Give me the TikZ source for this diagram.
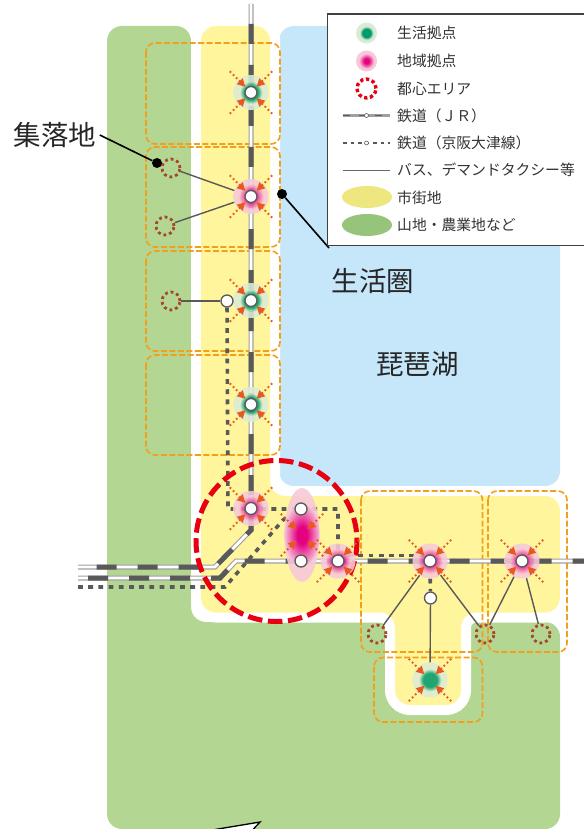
\documentclass[tikz,border=0pt]{standalone}
\usepackage{xcolor}
\usepackage{fontspec}
\setmainfont{Noto Sans CJK JP}
\usetikzlibrary{shapes,shapes.geometric,arrows,arrows.meta,positioning}

\definecolor{mtngreen}{HTML}{B3D692}
\definecolor{cityyellow}{HTML}{FFF59D}
\definecolor{lakeblue}{HTML}{C6E6FA}
\definecolor{boxorange}{HTML}{F29F1B}
\definecolor{rayorange}{HTML}{E8591C}
\definecolor{railgray}{HTML}{595959}
\definecolor{railedge}{HTML}{A0A0A0}
\definecolor{villagebrown}{HTML}{A5482A}
\definecolor{corered}{HTML}{E60012}
\definecolor{hubdark}{HTML}{009B6B}
\definecolor{hubpale}{HTML}{DCEBD5}
\definecolor{areadark}{HTML}{E4007F}
\definecolor{areapale}{HTML}{F7C9D9}
\definecolor{legyellow}{HTML}{EEE77F}
\definecolor{leggreen}{HTML}{95C47A}

\pgfdeclareradialshading{lifeglow}{\pgfpoint{0bp}{0bp}}{color(0bp)=(hubdark); color(10bp)=(hubdark); color(16bp)=(hubpale); color(50bp)=(hubpale)}
\pgfdeclareradialshading{areaglow}{\pgfpoint{0bp}{0bp}}{color(0bp)=(areadark); color(6bp)=(areadark); color(18bp)=(areapale); color(50bp)=(areapale)}
\pgfdeclareradialshading{ovalglow}{\pgfpoint{0bp}{0bp}}{color(0bp)=(areadark); color(7bp)=(areadark); color(26bp)=(areapale); color(50bp)=(areapale)}

\pgfdeclarelayer{back}
\pgfsetlayers{back,main}

\newcommand{\railline}[2]{%
    \draw[railbase] #2;
    \draw[railcore] #2;
    \draw[raildash, dash phase=#1] #2;
}

\begin{document}
\begin{tikzpicture}[x=1pt, y=-1pt, node distance=104pt]
    % Define styles
    \tikzstyle{lifehub} = [circle, minimum size=35pt, inner sep=0pt, shade, shading=lifeglow, opacity=0.88]
    \tikzstyle{areahub} = [circle, minimum size=35pt, inner sep=0pt, shade, shading=areaglow, opacity=0.88]
    \tikzstyle{station} = [circle, minimum size=12pt, inner sep=0pt, draw=railgray, line width=1.3pt, fill=white]
    \tikzstyle{village} = [circle, minimum size=18pt, inner sep=0pt, draw=villagebrown, line width=2.8pt, dash pattern=on 2.8pt off 3pt]
    \tikzstyle{area} = [draw=boxorange, line width=1.6pt, rounded corners=9pt, dash pattern=on 6pt off 2.5pt]
    \tikzstyle{hubray} = [draw=rayorange, line width=1.8pt, dash pattern=on 1.8pt off 2.6pt, -{Triangle[width=8pt,length=8pt]}]
    \tikzstyle{busline} = [draw=railgray, line width=1.4pt]
    \tikzstyle{keihan} = [draw=railgray, line width=3.6pt, dash pattern=on 4.8pt off 5.4pt]
    \tikzstyle{railbase} = [draw=railedge, line width=5pt]
    \tikzstyle{railcore} = [draw=white, line width=2.8pt]
    \tikzstyle{raildash} = [draw=railgray, line width=5pt, dash pattern=on 20pt off 21pt]
    \tikzstyle{callout} = [draw=black, line width=1.6pt]
    \tikzstyle{calloutdot} = [circle, minimum size=10pt, inner sep=0pt, fill=black]
    \tikzstyle{bigtext} = [font=\fontsize{27.5}{30}\selectfont, text=black!85]
    \tikzstyle{legendtext} = [anchor=west, inner sep=0pt, font=\fontsize{14.8}{16}\selectfont, text=black!80]

    \useasboundingbox (0,0) rectangle (583,829);

    % Hubs on the line north to south
    \node[lifehub] (hub1) at (251,92.5) {};
    \node[areahub, below of=hub1] (hub2) {};
    \node[lifehub, below of=hub2] (hub3) {};
    \node[lifehub, below of=hub3] (hub4) {};
    \node[areahub, below of=hub4] (hub5) {};
    % Hubs on the line west to east
    \node[areahub] (hub6) at (338,561) {};
    \node[areahub, right of=hub6, node distance=92pt] (hub7) {};
    \node[areahub, right of=hub7, node distance=92pt] (hub8) {};
    \node[lifehub] (hub9) at (430,680) {};
    \node[ellipse, minimum width=35pt, minimum height=94pt, inner sep=0pt, fill=areapale, opacity=0.9] (oval) at (302,535) {};
    \node[ellipse, minimum width=35pt, minimum height=62pt, inner sep=0pt, shade, shading=ovalglow] (ovalcore) at (oval) {};

    % Stations
    \foreach \i in {1,2,3,4,5,6,7,8} {
        \node[station] (st\i) at (hub\i) {};
    }
    \node[station] (ovaln) at (301,509) {};
    \node[station] (ovals) at (301,561) {};
    \node[station] (stbus) at (227,301) {};
    \node[station] (stbay) at (430.5,598) {};

    % Villages
    \node[village] (vil1) at (171,168) {};
    \node[village] (vil2) at (165,226) {};
    \node[village] (vil3) at (171,301) {};
    \node[village] (vil4) at (377,634) {};
    \node[village] (vil5) at (485,634) {};
    \node[village] (vil6) at (541,634) {};

    % Rays
    \foreach \h in {hub1,hub2,hub3,hub4,hub5,hub6,hub7,hub8,hub9,oval} {
        \foreach \a in {45,135,225,315} {
            \draw[hubray] (\h.center) ++(\a:30) -- ++(\a:-22);
        }
    }

    % Rail coordinates
    \coordinate (jrtop) at (251,4);
    \coordinate (jrbend) at (251,530);
    \coordinate (jrfoot) at (215,567);
    \coordinate (jrwest) at (78,567);
    \coordinate (jreast) at (590,561);
    \coordinate (jrelbow) at (236,561);
    \coordinate (jrlow) at (220,578);
    \coordinate (jrsouth) at (78,578);
    \coordinate (kewest) at (78,587);
    \coordinate (kefoot) at (225,587);
    \coordinate (keup) at (283,520);
    \coordinate (kecorner) at (228,509);
    \coordinate (keturn) at (338,509);
    \coordinate (kelink) at (338,555.5);
    \coordinate (kelinke) at (430,555.5);

    \begin{pgfonlayer}{back}
        % Land and water
        \fill[lakeblue, rounded corners=15pt] (279,26) -- (560,26) -- (560,486) -- (279,486) -- cycle;
        \fill[mtngreen, rounded corners=15pt] (107,26) -- (191,26) -- (191,622) -- (560,622) -- (560,829) -- (107,829) -- cycle;
        \filldraw[fill=cityyellow, draw=white, line width=20pt, rounded corners=15pt] (201,26) -- (270,26) -- (270,496) -- (560,496) -- (560,612.5) -- (461,612.5) -- (461,705) -- (395,705) -- (395,612.5) -- (201,612.5) -- cycle;
        \fill[cityyellow, rounded corners=15pt] (201,26) -- (270,26) -- (270,496) -- (560,496) -- (560,612.5) -- (461,612.5) -- (461,705) -- (395,705) -- (395,612.5) -- (201,612.5) -- cycle;

        % Living areas
        \draw[area] (146,43) rectangle (280,144);
        \draw[area] (146,147) rectangle (280,247);
        \draw[area] (146,251) rectangle (280,351);
        \draw[area] (146,355) rectangle (280,455);
        \draw[area] (361,491) rectangle (482.5,652);
        \draw[area] (488,491) rectangle (567,652);
        \draw[area] (374,657.5) rectangle (482.5,722);

        % Connections
        \railline{21pt}{(jrtop) -- (jrbend) -- (jrfoot) -- (jrwest)}
        \railline{31pt}{(jrsouth) -- (jrlow) -- (jrelbow) -- (jreast)}
        \draw[keihan] (kewest) -- (kefoot) -- (keup) -- (ovaln);
        \draw[keihan] (stbus) -- (kecorner) -- (keturn) -- (st6);
        \draw[keihan] (kelink) -- (kelinke);
        \draw[keihan] (hub7) -- (stbay);

        % City centre area
        \draw[draw=corered, line width=5pt, dash pattern=on 14.5pt off 5.6pt] (276.5,541) circle (80.5);
    \end{pgfonlayer}

    % Bus lines
    \draw[busline] (vil1) -- (hub2);
    \draw[busline] (vil2) -- (hub2);
    \draw[busline] (vil3) -- (stbus);
    \draw[busline] (hub7) -- (vil4);
    \draw[busline] (hub7) -- (vil5);
    \draw[busline] (hub8) -- (vil5);
    \draw[busline] (hub8) -- (vil6);
    \draw[busline] (stbay) -- (hub9);

    % Big labels
    \node[bigtext] (lbvillage) at (55,135) {集落地};
    \node[bigtext] (lbcircle) at (373,281) {生活圏};
    \node[bigtext] (lblake) at (417.5,364) {琵琶湖};
    \node[calloutdot] (dotvillage) at (157,163) {};
    \node[calloutdot] (dotcircle) at (282,194) {};
    \coordinate (endcircle) at (329,248);
    \draw[callout] (lbvillage.east) -- (dotvillage);
    \draw[callout] (dotcircle) -- (endcircle);

    % Legend
    \draw[draw=black!75, fill=white, line width=1.2pt] (327.5,14) rectangle (590,245.5);
    \foreach \i/\y/\txt in {1/33/生活拠点, 2/61/地域拠点, 3/88.5/都心エリア, 4/116/鉄道（ＪＲ）, 5/143/鉄道（京阪大津線）, 6/170/バス、デマンドタクシー等, 7/197.5/市街地, 8/225/山地・農業地など} {
        \node[legendtext] (lt\i) at (397,\y) {\txt};
    }
    \node[lifehub, minimum size=21pt, opacity=1] (lg1) at (366.5,33) {};
    \node[areahub, minimum size=21pt, opacity=1] (lg2) at (366.5,61) {};
    \node[circle, minimum size=19pt, inner sep=0pt, draw=corered, line width=3.4pt, dash pattern=on 3.4pt off 2.6pt] (lg3) at (366.5,88.5) {};
    \coordinate (lg4w) at (343,115.5);
    \coordinate (lg4e) at (390,115.5);
    \draw[draw=railedge, line width=3pt] (lg4w) -- (lg4e);
    \draw[draw=railgray, line width=1.4pt, dash pattern=on 7pt off 9pt] (lg4w) -- (lg4e);
    \node[circle, minimum size=4pt, inner sep=0pt, draw=railgray, line width=0.6pt, fill=white] (lg4) at (366.5,115.5) {};
    \coordinate (lg5w) at (343,143);
    \coordinate (lg5e) at (390,143);
    \draw[draw=railgray, line width=1.5pt, dash pattern=on 3.5pt off 4pt] (lg5w) -- (lg5e);
    \node[circle, minimum size=4pt, inner sep=0pt, draw=railgray, line width=0.6pt, fill=white] (lg5) at (366.5,143) {};
    \coordinate (lg6w) at (343,170.5);
    \coordinate (lg6e) at (390,170.5);
    \draw[draw=railgray!90, line width=1.6pt] (lg6w) -- (lg6e);
    \node[ellipse, minimum width=50pt, minimum height=22pt, inner sep=0pt, fill=legyellow] (lg7) at (367,197) {};
    \node[ellipse, minimum width=50pt, minimum height=22pt, inner sep=0pt, fill=leggreen] (lg8) at (367,225) {};

    % Edge of a further callout
    \coordinate (wedgel) at (215,829.5);
    \coordinate (wedget) at (260,822);
    \coordinate (wedger) at (253,829.5);
    \draw[draw=black, fill=white, line width=1.3pt] (wedgel) -- (wedget) -- (wedger);
\end{tikzpicture}
\end{document}
